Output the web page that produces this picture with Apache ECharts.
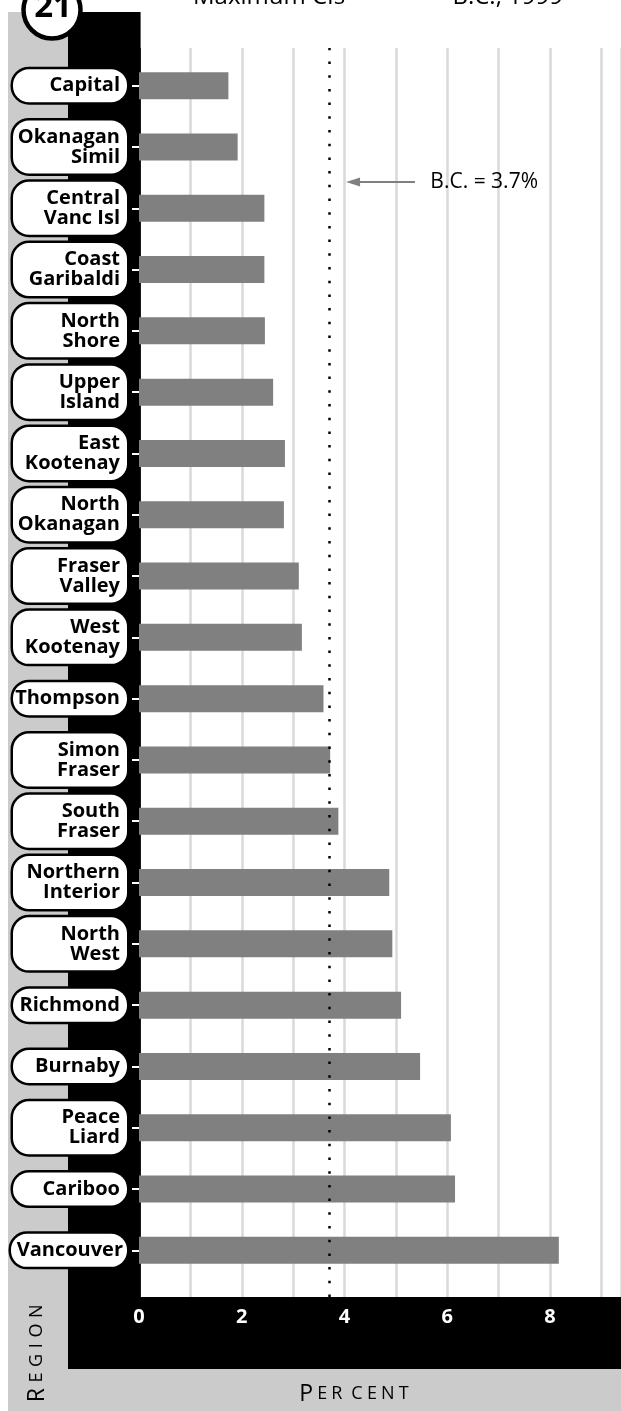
<!DOCTYPE html>
<html><head><meta charset="utf-8">
<script src="https://cdn.jsdelivr.net/npm/echarts@6/dist/echarts.min.js"></script>
<style>html,body{margin:0;padding:0;background:#fff}#c{width:621px;height:1411px}</style>
</head><body><div id="c"></div>
<script>
const regions = ['Capital','Okanagan\nSimil','Central\nVanc Isl','Coast\nGaribaldi','North\nShore','Upper\nIsland','East\nKootenay','North\nOkanagan','Fraser\nValley','West\nKootenay','Thompson','Simon\nFraser','South\nFraser','Northern\nInterior','North\nWest','Richmond','Burnaby','Peace\nLiard','Cariboo','Vancouver'];
const values = [1.74,1.92,2.44,2.44,2.45,2.61,2.84,2.82,3.11,3.17,3.59,3.72,3.88,4.87,4.93,5.10,5.47,6.07,6.15,8.17];
const bcAverage = 3.7;
const xTickLabels = [0,2,4,6,8];
const titleLeft = 'Maximum CIs';
const titleRight = '\u2014  B.C., 1999';
const badge = '21';
const xAxisName = 'Per cent';
const yAxisName = 'Region';

const chart = echarts.init(document.getElementById('c'), null, {renderer:'canvas'});
const FONT = "'Open Sans', 'DejaVu Sans', sans-serif";
const XMAX = 9.38;
const gridColors = [];
for (let i = 0; i <= 10; i++) gridColors.push(i === 0 ? '#000' : '#d9d9d9');

// small-caps rich text: first letter large, the rest small, letter-spaced
function smallCaps(word) {
  const up = word.toUpperCase();
  let s = '{a|' + up[0] + '}';
  for (let i = 1; i < up.length; i++) s += up[i] === ' ' ? '{s| }' : '{b|' + up[i] + '}';
  return s;
}
function capsRich(sp) {
  return {
    a: {fontSize: 23, fontFamily: FONT, fill: '#000', padding: [0, sp, 0, 0]},
    b: {fontSize: 18, fontFamily: FONT, fill: '#000', padding: [0, sp, 0, sp]},
    s: {fontSize: 18, fontFamily: FONT, fill: '#000'}
  };
}

const yData = regions.map(r => r === 'Vancouver'
  ? {value: r, textStyle: {width: 108, padding: [6, 4, 7, 4]}}
  : r);

const option = {
  animation: false,
  backgroundColor: '#fff',
  grid: [
    {left: 139, right: 0, top: 48, bottom: 114},
    {left: 139, right: 0, top: 55, bottom: 130}
  ],
  xAxis: [
    {gridIndex: 0, type: 'value', min: 0, max: XMAX, interval: 1,
     axisLine: {show: false}, axisTick: {show: false},
     splitLine: {show: true, lineStyle: {color: gridColors, width: 2.5}},
     axisLabel: {color: '#fff', fontFamily: FONT, fontWeight: 'bold', fontSize: 20, margin: 10,
       showMaxLabel: false,
       formatter: v => xTickLabels.indexOf(v) >= 0 ? String(v) : ''}},
    {gridIndex: 1, type: 'value', min: 0, max: XMAX, show: false, splitLine: {show: false}}
  ],
  yAxis: [
    {gridIndex: 0, type: 'value', show: false, splitLine: {show: false}},
    {gridIndex: 1, type: 'category', inverse: true, data: yData,
     axisLine: {show: false},
     axisTick: {show: true, alignWithLabel: true, length: 7, lineStyle: {color: '#fff', width: 2}},
     axisLabel: {margin: 12, fontFamily: FONT, fontWeight: 'bold', fontSize: 20, lineHeight: 20,
       color: '#000', backgroundColor: '#fff', borderColor: '#000', borderWidth: 2.5, borderRadius: 16,
       padding: [6, 7, 7, 7], width: 100, overflow: 'none', align: 'right'}}
  ],
  series: [
    {type: 'bar', xAxisIndex: 1, yAxisIndex: 1, data: values, barWidth: 27,
     itemStyle: {color: '#808080'}, silent: true},
    {type: 'line', xAxisIndex: 0, yAxisIndex: 0, data: [], silent: true,
     markLine: {silent: true, symbol: ['none', 'none'], label: {show: false},
       lineStyle: {color: '#000', type: [2.5, 11.2], width: 2.5},
       data: [{xAxis: bcAverage}]}}
  ],
  graphic: [
    {type: 'rect', z: -10, shape: {x: 8, y: 12, width: 60, height: 1399}, style: {fill: '#cbcbcb'}},
    {type: 'rect', z: -10, shape: {x: 8, y: 1369, width: 613, height: 42}, style: {fill: '#cbcbcb'}},
    {type: 'rect', z: -9, shape: {x: 68, y: 12, width: 72.6, height: 1357}, style: {fill: '#000'}},
    {type: 'rect', z: -9, shape: {x: 68, y: 1297, width: 553, height: 72}, style: {fill: '#000'}},
    {type: 'circle', z: 100, shape: {cx: 52, cy: 10, r: 28.5}, style: {fill: '#fff', stroke: '#000', lineWidth: 4.5}},
    {type: 'text', z: 101, x: 53, y: 8, style: {text: badge, font: "bold 33px " + FONT, fill: '#000', align: 'center', verticalAlign: 'middle'}},
    {type: 'text', z: 100, x: 193, y: 9, style: {text: titleLeft, font: "24px " + FONT, fill: '#000', align: 'left', verticalAlign: 'bottom'}},
    {type: 'text', z: 100, x: 563, y: 9, style: {text: titleRight, font: "24px " + FONT, fill: '#000', align: 'right', verticalAlign: 'bottom'}},
    {type: 'text', z: 100, x: 355, y: 1394, style: {text: smallCaps(xAxisName), align: 'center', verticalAlign: 'middle', rich: capsRich(2.1)}},
    {type: 'text', z: 100, x: 37, y: 1352, rotation: Math.PI / 2, style: {text: smallCaps(yAxisName), align: 'center', verticalAlign: 'middle', rich: capsRich(2.8)}}
  ]
};
chart.setOption(option);

// annotation for the B.C. average, placed through the value axis
const px = v => chart.convertToPixel({xAxisIndex: 0}, v);
const tip = px(bcAverage + 0.33), tail = px(bcAverage + 1.67), txt = px(bcAverage + 1.97);
const ay = 182;
chart.setOption({graphic: option.graphic.concat([
  {type: 'line', z: 100, shape: {x1: tail, y1: ay, x2: tip + 10, y2: ay}, style: {stroke: '#808080', lineWidth: 2}},
  {type: 'polygon', z: 100, shape: {points: [[tip, ay], [tip + 14, ay - 4.5], [tip + 14, ay + 4.5]]}, style: {fill: '#808080'}},
  {type: 'text', z: 100, x: txt, y: ay, style: {text: 'B.C. = ' + bcAverage + '%', font: "21px " + FONT, fill: '#000', align: 'left', verticalAlign: 'middle'}}
])});
</script></body></html>
